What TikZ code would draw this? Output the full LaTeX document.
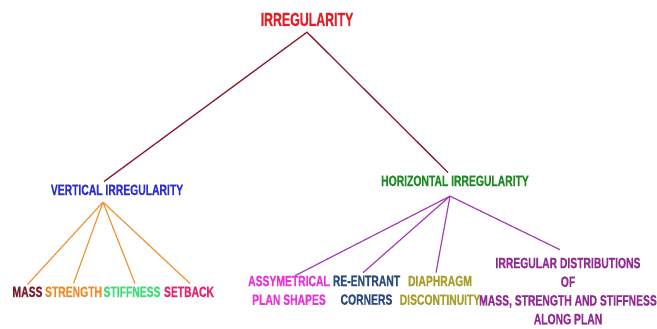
\documentclass[tikz,border=0pt]{standalone}
\usepackage{fontspec}
\setmainfont{Liberation Sans}[FakeStretch=0.69,FakeBold=0.6]
\newfontfamily\topfnt{Liberation Sans}[FakeStretch=0.65,FakeBold=0.6]
\definecolor{ctop}{HTML}{E21F26}
\definecolor{ctopline}{HTML}{8B1E2E}
\definecolor{cvert}{HTML}{2E2ECC}
\definecolor{chor}{HTML}{1F8A24}
\definecolor{cvline}{HTML}{F0943C}
\definecolor{chline}{HTML}{A33FB5}
\definecolor{cmass}{HTML}{7B1C2A}
\definecolor{cstrength}{HTML}{F08C28}
\definecolor{cstiff}{HTML}{3CDC78}
\definecolor{csetback}{HTML}{E8226E}
\definecolor{cassym}{HTML}{E835D8}
\definecolor{creent}{HTML}{2C4A7C}
\definecolor{cdiaph}{HTML}{A89E2E}
\definecolor{cirr}{HTML}{922A92}
\begin{document}
\begin{tikzpicture}[x=1pt,y=-1pt,
  lbl/.style={inner sep=0pt,outer sep=0pt,anchor=base,font=\bfseries\fontsize{15}{18.7}\selectfont},
  mlbl/.style={lbl,anchor=north,align=center},
  topline/.style={draw=ctopline,line width=1.3pt},
  vline/.style={draw=cvline,line width=1.2pt},
  hline/.style={draw=chline,line width=1.2pt}]
\useasboundingbox (0,0) rectangle (657,329);
\node[lbl,font=\topfnt\bfseries\fontsize{19}{22}\selectfont,text=ctop] (top) at (307,26) {IRREGULARITY};
\node[lbl,text=cvert] (vert) at (117,195) {VERTICAL IRREGULARITY};
\node[lbl,text=chor] (hor) at (455,186) {HORIZONTAL IRREGULARITY};
\node[lbl,text=cmass] (mass) at (27.5,297) {MASS};
\node[lbl,text=cstrength] (strength) at (73.5,297) {STRENGTH};
\node[lbl,text=cstiff] (stiff) at (132,297) {STIFFNESS};
\node[lbl,text=csetback] (setback) at (189,297) {SETBACK};
\node[mlbl,text=cassym] (assym) at (289,275.7) {ASSYMETRICAL\\PLAN SHAPES};
\node[mlbl,text=creent] (reent) at (366.5,275.7) {RE-ENTRANT\\CORNERS};
\node[mlbl,text=cdiaph] (diaph) at (440,275.7) {DIAPHRAGM\\DISCONTINUITY};
\node[mlbl,text=cirr] (irr) at (568,257.7) {IRREGULAR DISTRIBUTIONS\\OF\\MASS, STRENGTH AND STIFFNESS\\ALONG PLAN};
\coordinate (ta) at ([yshift=-6pt]top.south);
\coordinate (vin) at ([xshift=-13pt,yshift=3pt]vert.north);
\coordinate (vout) at ([xshift=-14pt,yshift=-7pt]vert.south);
\coordinate (hin) at ([xshift=-7pt,yshift=3pt]hor.north);
\coordinate (hout) at ([xshift=-5pt,yshift=-10pt]hor.south);
\draw[topline] (vin) -- (ta) -- (hin);
\draw[vline] (vout) -- ([yshift=2pt]mass.north);
\draw[vline] (vout) -- ([yshift=3pt]strength.north);
\draw[vline] (vout) -- ([xshift=3pt,yshift=3pt]stiff.north);
\draw[vline] (vout) -- ([xshift=1pt,yshift=3pt]setback.north);
\draw[hline] (hout) -- ([xshift=6pt]assym.north);
\draw[hline] (hout) -- ([xshift=-3.5pt,yshift=3pt]reent.north);
\draw[hline] (hout) -- ([xshift=-4pt,yshift=3pt]diaph.north);
\draw[hline] (hout) -- ([xshift=-8pt,yshift=8pt]irr.north);
\end{tikzpicture}
\end{document}
